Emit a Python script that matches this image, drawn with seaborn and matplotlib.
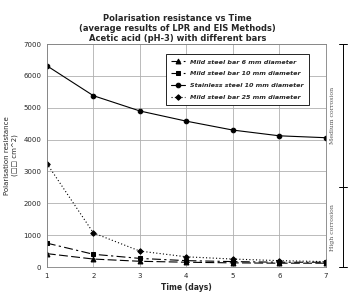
import numpy as np
import pandas as pd
import matplotlib
matplotlib.use("Agg")
import matplotlib.pyplot as plt
import seaborn as sns

days = [1, 2, 3, 4, 5, 6, 7]
mild_6mm = [420, 250, 180, 150, 130, 120, 120]
mild_10mm = [750, 400, 270, 200, 170, 150, 150]
stainless_10mm = [6320, 5380, 4900, 4580, 4300, 4120, 4060]
mild_25mm = [3250, 1070, 500, 320, 250, 200, 170]

series_names = ["Mild steel bar 6 mm diameter", "Mild steel bar 10 mm diameter",
                "Stainless steel 10 mm diameter", "Mild steel bar 25 mm diameter"]
yticks = [0, 1000, 2000, 3000, 4000, 5000, 6000, 7000]

df = pd.DataFrame({
    "day": days * 4,
    "value": mild_6mm + mild_10mm + stainless_10mm + mild_25mm,
    "series": np.repeat(series_names, len(days)),
})

sns.set_style("white")
fig = plt.figure(figsize=(3.55, 2.98), dpi=100)
ax = fig.add_axes([0.132, 0.104, 0.786, 0.748])

styles = {
    series_names[0]: dict(marker="^", ls=(0, (8, 3)), ms=3.5),
    series_names[1]: dict(marker="s", ls=(0, (8, 3, 2, 3)), ms=3.3),
    series_names[2]: dict(marker="o", ls="-", ms=3.3),
    series_names[3]: dict(marker="D", ls=(0, (1, 2)), ms=2.8),
}
for name in series_names:
    sub = df[df["series"] == name]
    st = styles[name]
    sns.lineplot(data=sub, x="day", y="value", ax=ax, color="black", lw=0.8,
                 linestyle=st["ls"], marker=st["marker"], markersize=st["ms"],
                 markeredgecolor="black", label=name)

ax.set_xlim(1, 7)
ax.set_ylim(0, 7000)
ax.set_xticks(days)
ax.set_yticks(yticks)
ax.tick_params(labelsize=5, length=2, color="#808080", pad=2)
ax.grid(True, color="#b0b0b0", lw=0.6)
for s in ax.spines.values():
    s.set_color("#808080")
    s.set_linewidth(0.6)

ax.set_xlabel("Time (days)", fontsize=5.5, fontweight="bold", labelpad=3)
ax.set_ylabel("Polarisation resistance\n(\u25a1\u25a1 cm^2)", fontsize=5, labelpad=4)
fig.text(0.5, 0.905, "Polarisation resistance vs Time\n(average results of LPR and EIS Methods)\nAcetic acid (pH-3) with different bars",
         ha="center", va="center", fontsize=6, fontweight="bold", linespacing=1.15)

leg = ax.legend(loc="upper left", bbox_to_anchor=(0.415, 0.97), fontsize=4.6,
                frameon=True, fancybox=False, edgecolor="black", handlelength=2.2,
                borderpad=0.8, labelspacing=1.0, framealpha=1)
leg.get_frame().set_linewidth(0.6)
for t in leg.get_texts():
    t.set_fontstyle("italic")
    t.set_fontweight("bold")

# corrosion bracket on the right
tr = ax.get_yaxis_transform()
bx = 1.061
ax.plot([bx, bx], [0, 7000], color="black", lw=0.7, transform=tr, clip_on=False)
for yv in [0, 2500, 7000]:
    ax.plot([bx - 0.015, bx + 0.015], [yv, yv], color="black", lw=0.7, transform=tr, clip_on=False)
ax.text(1.025, 4750, "Medium corrosion", rotation=90, ha="center", va="center",
        fontsize=4.5, family="DejaVu Serif", color="#555555", transform=tr)
ax.text(1.025, 1250, "High corrosion", rotation=90, ha="center", va="center",
        fontsize=4.5, family="DejaVu Serif", color="#555555", transform=tr)

fig.savefig("out.png", dpi=100)
